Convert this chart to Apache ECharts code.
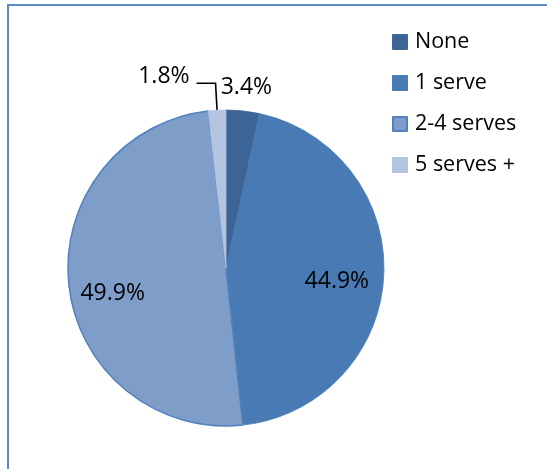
<!DOCTYPE html>
<html>
<head>
<meta charset="utf-8">
<script src="https://cdn.jsdelivr.net/npm/echarts@6/dist/echarts.min.js"></script>
<style>
  html, body { margin: 0; padding: 0; background: #fff; }
  #chart { width: 547px; height: 469px; }
</style>
</head>
<body>
<div id="chart"></div>
<script>
// Serves per day: share of respondents (%)
const categories = ['None', '1 serve', '2-4 serves', '5 serves +'];
const shares = [3.4, 44.9, 49.9, 1.8];

const sliceColors = ['#3C6496', '#4A7AB3', '#7F9DC9', '#B4C3E0'];
const sliceBorders = ['#3C6496', '#4A7AB3', '#4F81BD', '#B4C3E0'];
const FONT = '"Open Sans", "Liberation Sans", sans-serif';

const chart = echarts.init(document.getElementById('chart'), null, { renderer: 'canvas' });

const fmt = p => p.value.toFixed(1) + '%';
const pieCenter = [226, 268];

// Small slices are labelled outside, large ones inside.
const mainData = categories.map((name, i) => {
  const small = shares[i] < 5;
  const item = {
    name,
    value: shares[i],
    itemStyle: { color: sliceColors[i], borderColor: sliceBorders[i], borderWidth: i === 2 ? 1.5 : 0.8 },
    label: { show: small },
    labelLine: { show: small }
  };
  if (name === 'None') {
    item.label.offset = [-27, -15];
    item.labelLine = { show: false, length: 8, length2: 0 };
  }
  if (name === '5 serves +') {
    item.label.offset = [-3, -7];
    item.labelLine = { show: true, length: 27, length2: 19 };
  }
  return item;
});

// Label-only ring: its half radius sets where the inside labels sit.
const innerLabelData = categories.map((name, i) => {
  const item = {
    name,
    value: shares[i],
    itemStyle: { color: 'rgba(0,0,0,0)', borderWidth: 0 },
    label: { show: shares[i] >= 5 }
  };
  if (name === '1 serve') item.label.offset = [-5, 7];
  if (name === '2-4 serves') item.label.offset = [2, 13];
  return item;
});

chart.setOption({
  animation: false,
  backgroundColor: '#fff',
  graphic: [{
    type: 'rect',
    shape: { x: 8, y: 5, width: 700, height: 700 },
    style: { fill: 'none', stroke: '#5B8AC6', lineWidth: 2 },
    silent: true
  }],
  legend: {
    orient: 'vertical',
    left: 392,
    top: 31,
    padding: 0,
    data: categories,
    itemWidth: 14,
    itemHeight: 14,
    itemGap: 19,
    icon: 'rect',
    textStyle: { fontFamily: FONT, fontSize: 21.5, color: '#000', padding: [0, 0, 0, 3] }
  },
  series: [
    {
      type: 'pie',
      center: pieCenter,
      radius: 158,
      startAngle: 90,
      clockwise: true,
      avoidLabelOverlap: false,
      data: mainData,
      label: {
        position: 'outside',
        formatter: fmt,
        fontFamily: FONT,
        fontSize: 23,
        color: '#000',
        distanceToLabelLine: 4
      },
      labelLine: {
        lineStyle: { color: '#000', width: 1.6 }
      },
      emphasis: { disabled: true }
    },
    {
      type: 'pie',
      center: pieCenter,
      radius: 226,
      startAngle: 90,
      clockwise: true,
      silent: true,
      avoidLabelOverlap: false,
      z: 3,
      data: innerLabelData,
      label: {
        position: 'inside',
        formatter: fmt,
        fontFamily: FONT,
        fontSize: 23,
        color: '#000'
      },
      labelLine: { show: false },
      emphasis: { disabled: true }
    }
  ]
});
</script>
</body>
</html>
